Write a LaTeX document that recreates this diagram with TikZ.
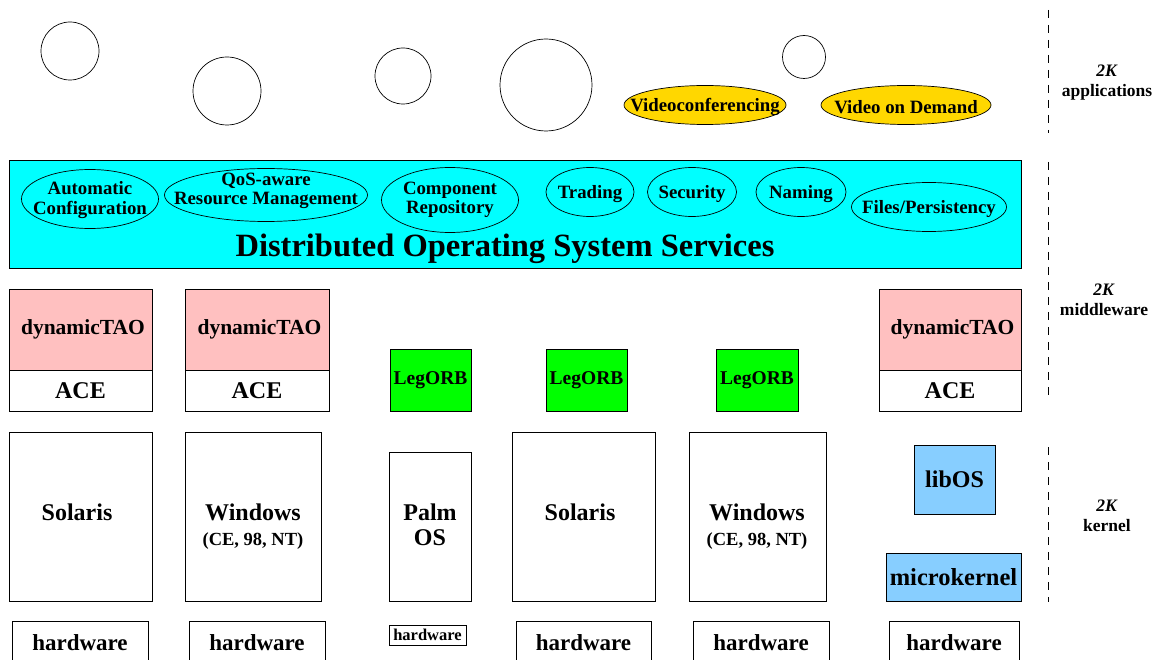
\documentclass[tikz,border=0pt]{standalone}
\usepackage{fontspec}
\setmainfont{Liberation Serif}
\usetikzlibrary{shapes.geometric}
\definecolor{dospink}{RGB}{255,192,192}
\definecolor{dosgreen}{RGB}{0,255,0}
\definecolor{dosblue}{RGB}{135,206,255}
\definecolor{dosgold}{RGB}{255,215,0}
\definecolor{doscyan}{RGB}{0,255,255}
\begin{document}
\begin{tikzpicture}[x=1pt,y=-1pt,
  box/.style={draw, line width=0.7pt, inner sep=0pt, align=center, font=\bfseries\fontsize{24}{26}\selectfont},
  txt/.style={inner sep=0pt, align=center, font=\bfseries\fontsize{24}{26}\selectfont},
  ell/.style={ellipse, draw, line width=0.7pt, inner sep=0pt},
  etxt/.style={inner sep=0pt, align=center, font=\bfseries\fontsize{18.8}{19.5}\selectfont},
  etxtone/.style={etxt, yshift=-2pt},
  circ/.style={circle, draw, line width=0.7pt, inner sep=0pt},
  layerlbl/.style={align=center, font=\bfseries\fontsize{17.5}{20}\selectfont},
  sep/.style={draw, line width=0.7pt, dash pattern=on 8pt off 7pt}
]
\useasboundingbox (0,0) rectangle (1153,660);
% application circles
\node[circ, minimum size=58] (c1) at (70,51) {};
\node[circ, minimum size=68] (c2) at (227,91) {};
\node[circ, minimum size=56] (c3) at (403,76) {};
\node[circ, minimum size=92] (c4) at (546,85) {};
\node[circ, minimum size=43] (c5) at (804,57) {};
\node[ell, fill=dosgold, minimum width=162, minimum height=39] (vc) at (705,105) {};
\node[etxtone] (vct) at (vc) {Videoconferencing};
\node[ell, fill=dosgold, minimum width=170, minimum height=39] (vod) at (906,105) {};
\node[etxtone] (vodt) at (vod) {Video on Demand};
% DOS services
\node[box, fill=doscyan, minimum width=1012, minimum height=108] (dos) at (515,214) {};
\node[txt, font=\bfseries\fontsize{32.5}{34}\selectfont] (dostitle) at (505,249) {Distributed Operating System Services};
\node[ell, minimum width=137, minimum height=59] (autoc) at (90,199) {};
\node[etxt] (autoct) at (90,200) {Automatic\\Configuration};
\node[ell, minimum width=203, minimum height=53] (qos) at (266,195) {};
\node[etxt] (qost) at (266,191) {QoS-aware\\Resource Management};
\node[ell, minimum width=137, minimum height=65] (comp) at (450,200) {};
\node[etxt] (compt) at (450,200) {Component\\Repository};
\node[ell, minimum width=88, minimum height=49] (trad) at (590,192) {};
\node[etxtone] (tradt) at (trad) {Trading};
\node[ell, minimum width=89, minimum height=49] (secu) at (692,192) {};
\node[etxtone] (secut) at (secu) {Security};
\node[ell, minimum width=90, minimum height=49] (nami) at (801,192) {};
\node[etxtone] (namit) at (nami) {Naming};
\node[ell, minimum width=155, minimum height=49] (file) at (929,207) {};
\node[etxtone] (filet) at (file) {Files/Persistency};
% middleware
\node[box, fill=dospink, minimum width=143, minimum height=81, font=\bfseries\fontsize{21.5}{22}\selectfont] (tao1) at (80.5,329.5) {\hspace*{5pt}dynamicTAO};
\node[box, fill=white, minimum width=143, minimum height=41] (ace1) at (80.5,390.5) {ACE};
\node[box, fill=dospink, minimum width=144, minimum height=81, font=\bfseries\fontsize{21.5}{22}\selectfont] (tao2) at (257,329.5) {\hspace*{5pt}dynamicTAO};
\node[box, fill=white, minimum width=144, minimum height=41] (ace2) at (257,390.5) {ACE};
\node[box, fill=dospink, minimum width=142, minimum height=81, font=\bfseries\fontsize{21.5}{22}\selectfont] (tao3) at (950,329.5) {\hspace*{5pt}dynamicTAO};
\node[box, fill=white, minimum width=142, minimum height=41] (ace3) at (950,390.5) {ACE};
\node[box, fill=dosgreen, minimum width=81, minimum height=62, font=\bfseries\fontsize{19.5}{20}\selectfont] (leg1) at (430.5,380) {LegORB};
\node[box, fill=dosgreen, minimum width=81, minimum height=62, font=\bfseries\fontsize{19.5}{20}\selectfont] (leg2) at (586.5,380) {LegORB};
\node[box, fill=dosgreen, minimum width=82, minimum height=62, font=\bfseries\fontsize{19.5}{20}\selectfont] (leg3) at (757,380) {LegORB};
% kernels
\node[box, minimum width=143, minimum height=169] (sol1) at (80.5,516.5) {};
\node[txt] (sol1t) at (77,512) {Solaris};
\node[box, minimum width=136, minimum height=169] (win1) at (253,516.5) {};
\node[txt] (win1t) at (253,512) {Windows};
\node[txt, font=\bfseries\fontsize{18.5}{20}\selectfont] (win1s) at (253,541) {(CE, 98, NT)};
\node[box, minimum width=82, minimum height=149] (palm) at (430,526.5) {};
\node[txt] (palmt) at (430,512) {Palm};
\node[txt] (palmo) at (430,538) {OS};
\node[box, minimum width=143, minimum height=169] (sol2) at (583.5,516.5) {};
\node[txt] (sol2t) at (580,512) {Solaris};
\node[box, minimum width=137, minimum height=169] (win2) at (757.5,516.5) {};
\node[txt] (win2t) at (757,512) {Windows};
\node[txt, font=\bfseries\fontsize{18.5}{20}\selectfont] (win2s) at (757,541) {(CE, 98, NT)};
\node[box, fill=dosblue, minimum width=81, minimum height=69] (libos) at (954.5,479.5) {libOS};
\node[box, fill=dosblue, minimum width=135, minimum height=48, font=\bfseries\fontsize{24.5}{26}\selectfont] (mk) at (953.5,577) {microkernel};
% hardware
\node[box, minimum width=136, minimum height=44, font=\bfseries\fontsize{23}{24}\selectfont] (hw1) at (80,643) {hardware};
\node[box, minimum width=136, minimum height=44, font=\bfseries\fontsize{23}{24}\selectfont] (hw2) at (257,643) {hardware};
\node[box, minimum width=77, minimum height=20, font=\bfseries\fontsize{16.5}{17}\selectfont] (hw3) at (427.5,635) {hardware};
\node[box, minimum width=135, minimum height=44, font=\bfseries\fontsize{23}{24}\selectfont] (hw4) at (583.5,643) {hardware};
\node[box, minimum width=136, minimum height=44, font=\bfseries\fontsize{23}{24}\selectfont] (hw5) at (761,643) {hardware};
\node[box, minimum width=130, minimum height=44, font=\bfseries\fontsize{23}{24}\selectfont] (hw6) at (954,643) {hardware};
% layer separators and labels
\draw[sep] (1048,10) -- (1048,133);
\draw[sep] (1048,162) -- (1048,400);
\draw[sep] (1048,447) -- (1048,602);
\node[layerlbl] (lapp) at (1107,83) {\textit{2K}\\applications};
\node[layerlbl] (lmid) at (1104,300) {\textit{2K}\\middleware};
\node[layerlbl] (lker) at (1107,516) {\textit{2K}\\kernel};
\end{tikzpicture}
\end{document}
